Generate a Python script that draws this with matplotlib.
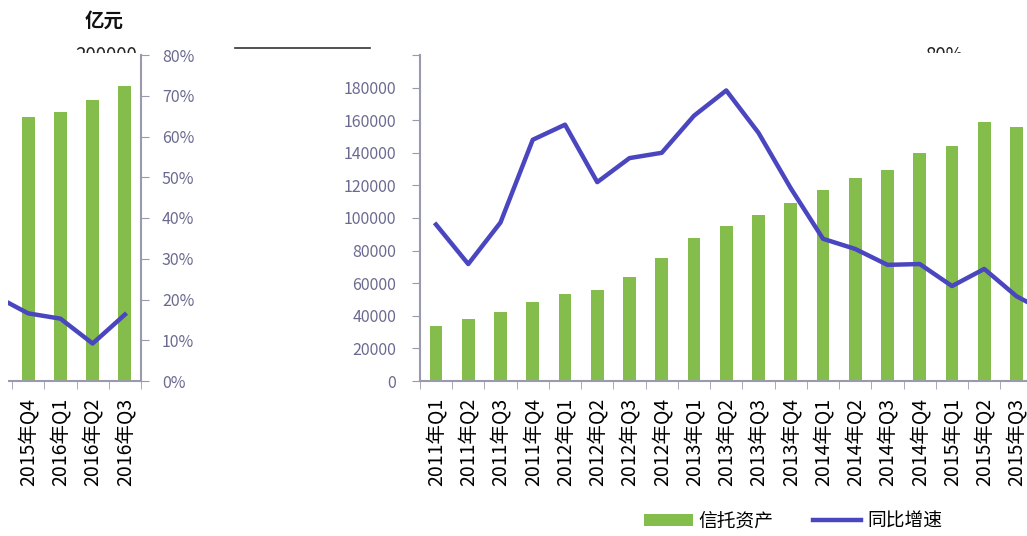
import numpy as np
import matplotlib
matplotlib.use('Agg')
import matplotlib.pyplot as plt
from matplotlib.patches import Patch, Rectangle
from matplotlib.lines import Line2D
from matplotlib.transforms import Bbox, TransformedBbox

plt.rcParams['font.family'] = ['Noto Sans CJK SC', 'DejaVu Sans']

# ── data ───────────────────────────────────────────────────────────────────────
quarters = ['2011年Q1', '2011年Q2', '2011年Q3', '2011年Q4',
            '2012年Q1', '2012年Q2', '2012年Q3', '2012年Q4',
            '2013年Q1', '2013年Q2', '2013年Q3', '2013年Q4',
            '2014年Q1', '2014年Q2', '2014年Q3', '2014年Q4',
            '2015年Q1', '2015年Q2', '2015年Q3', '2015年Q4',
            '2016年Q1', '2016年Q2', '2016年Q3']
assets = [33700, 38000, 42300, 48500, 53400, 55800, 63800, 75500,
          87700, 95100, 101800, 109200, 117000, 124500, 129400, 139900,
          144200, 158900, 155800, 162000, 165000, 172400, 181000]
growth = [38.4, 28.7, 38.9, 59.2, 62.9, 48.8, 54.7, 56.0,
          65.1, 71.3, 60.9, 47.3, 34.9, 32.4, 28.5, 28.7,
          23.3, 27.5, 20.8, 16.6, 15.3, 9.2, 16.3]
asset_ticks = list(range(0, 200001, 20000))
pct_ticks = list(range(0, 81, 10))

# ── colours / layout ───────────────────────────────────────────────────────────
GREEN = '#85bd4c'
BLUE = '#4a46c0'
SPINE = '#9a9aae'
TICKTXT = '#6a6a90'
W, H = 1027, 536
STEP = 32.25                     # px per category
N = len(quarters)
LEFT = 436 - STEP / 2            # main plot left edge (px)
WRAP = 1020.6                    # the picture wraps the right end to the left
SPLIT = 19                       # first category that shows up on the left

fig = plt.figure(figsize=(W / 100, H / 100), dpi=100)
fig.patch.set_facecolor('white')


def px(x, y):
    return x / W, 1 - y / H


def draw(left_px, shown, left_labels, right_labels):
    ax = fig.add_axes([left_px / W, 155 / H, N * STEP / W, 326 / H])
    x = np.arange(N)
    ax.bar(x, assets, width=0.4, color=GREEN, zorder=2)
    ax.set_xlim(-0.5, N - 0.5)
    ax.set_ylim(0, 200000)
    ax.set_yticks(asset_ticks)
    ax.set_yticklabels([str(v) if (left_labels and v < 200000) else ''
                        for v in asset_ticks])
    ax.tick_params(axis='y', length=6, color=SPINE, labelcolor=TICKTXT,
                   labelsize=11.5, pad=11)
    ax.set_xticks(x)
    ax.set_xticklabels([q if i in shown else '' for i, q in enumerate(quarters)],
                       rotation=90)
    ax.tick_params(axis='x', which='major', length=0, labelsize=14, pad=12)
    ax.set_xticks(np.arange(-0.5, N, 1), minor=True)
    ax.tick_params(axis='x', which='minor', length=6, color=SPINE)
    for s in ('top', 'right'):
        ax.spines[s].set_visible(False)
    for s in ('left', 'bottom'):
        ax.spines[s].set_color(SPINE)
        ax.spines[s].set_linewidth(1.5)

    ax2 = ax.twinx()
    ax2.plot(x, growth, color=BLUE, lw=3.2, solid_joinstyle='round')
    ax2.set_ylim(0, 80)
    ax2.set_yticks(pct_ticks)
    ax2.set_yticklabels([f'{v}%' if right_labels else '' for v in pct_ticks])
    ax2.tick_params(axis='y', length=6, color=SPINE, labelcolor=TICKTXT,
                    labelsize=11.5, pad=9)
    for s in ('top', 'left', 'bottom'):
        ax2.spines[s].set_visible(False)
    ax2.spines['right'].set_color(SPINE)
    ax2.spines['right'].set_linewidth(1.5)
    return ax


draw(LEFT, range(0, SPLIT), True, False)
draw(LEFT - WRAP, range(SPLIT, N), False, True)

# blank strip at the very left edge
fig.patches.append(Rectangle((0, 0), 8 / W, 1, transform=fig.transFigure,
                             facecolor='white', edgecolor='none', zorder=10))

# ── stray header pieces ────────────────────────────────────────────────────────
fig.text(*px(104, 21), '亿元', ha='center', va='center', fontsize=14,
         fontweight='bold', color='#111111')


def clipped_text(x, y, s, y_cut, **kw):
    t = fig.text(*px(x, y), s, va='top', **kw)
    box = Bbox.from_extents(0, 1 - y_cut / H, 1, 1)
    t.set_clip_box(TransformedBbox(box, fig.transFigure))
    t.set_clip_on(True)
    return t


clipped_text(75, 45, '200000', 53, ha='left', fontsize=13.5, color='#222222')
clipped_text(925, 45, '80%', 53, ha='left', fontsize=13.5, color='#222222')
fig.lines.append(Line2D([235 / W, 370 / W], [1 - 48 / H, 1 - 48 / H],
                        transform=fig.transFigure, color='#333333', lw=1.2))

# ── legend ─────────────────────────────────────────────────────────────────────
handles = [Patch(facecolor=GREEN, edgecolor='none'),
           Line2D([], [], color=BLUE, lw=3.2)]
fig.legend(handles, ['信托资产', '同比增速'], loc='center',
           bbox_to_anchor=px(793, 521), ncol=2, frameon=False, fontsize=13.5,
           handlelength=2.6, handleheight=0.55, handletextpad=0.3,
           columnspacing=2.1)

fig.savefig('out.png', dpi=100, facecolor='white')
